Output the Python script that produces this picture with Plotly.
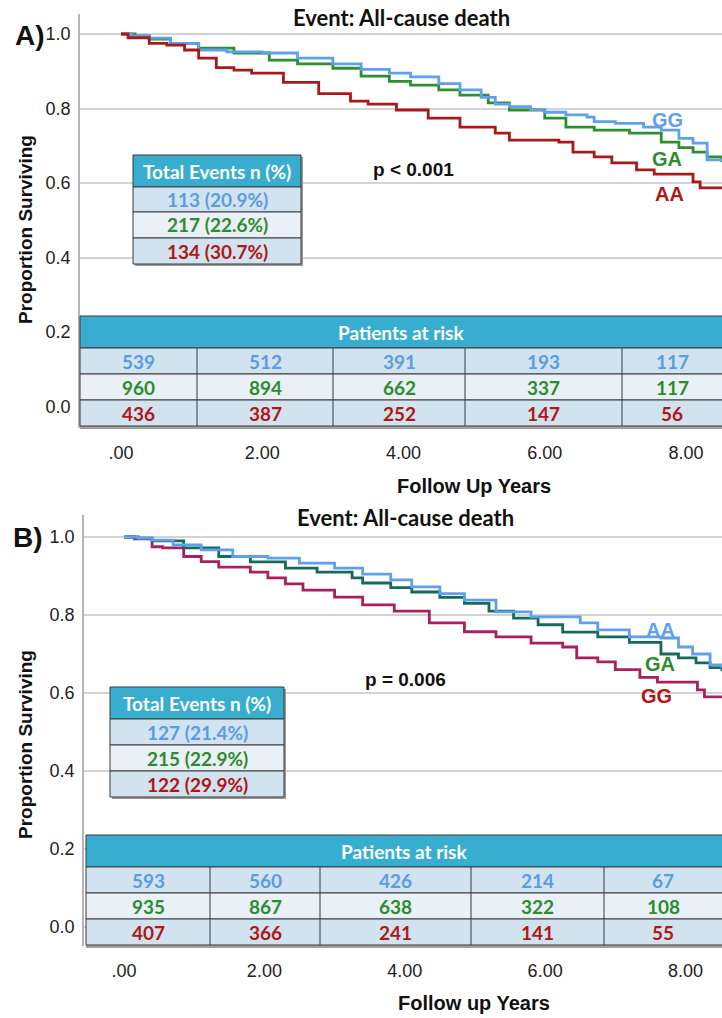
import plotly.graph_objects as go

W, H = 722, 1018

# ---- Panel A: Kaplan-Meier estimates (years, proportion surviving) ----
a_gg_t = [0, 0.15, 0.4, 0.7, 1.1, 1.5, 2.0, 2.5, 3.0, 3.4, 3.8, 4.1, 4.5, 4.8, 5.1, 5.3, 5.5,
          5.8, 6.0, 6.3, 6.6, 6.7, 7.0, 7.4, 7.65, 7.9, 8.1, 8.3, 8.51]
a_gg_s = [1.0, 0.995, 0.989, 0.975, 0.957, 0.952, 0.949, 0.935, 0.92, 0.905, 0.895, 0.885, 0.867,
          0.85, 0.83, 0.812, 0.805, 0.797, 0.79, 0.783, 0.777, 0.765, 0.76, 0.75, 0.742, 0.72,
          0.707, 0.662, 0.662]
a_ga_t = [0, 0.2, 0.4, 0.7, 1.1, 1.6, 2.1, 2.5, 3.0, 3.4, 3.8, 4.1, 4.5, 4.8, 5.2, 5.5, 6.0,
          6.3, 6.7, 7.2, 7.65, 7.9, 8.1, 8.3, 8.51]
a_ga_s = [1.0, 0.995, 0.986, 0.975, 0.962, 0.949, 0.93, 0.92, 0.908, 0.887, 0.873, 0.863, 0.85,
          0.836, 0.815, 0.796, 0.774, 0.75, 0.742, 0.734, 0.71, 0.695, 0.683, 0.67, 0.656]
a_aa_t = [0, 0.1, 0.4, 0.65, 0.9, 1.1, 1.35, 1.6, 1.85, 2.3, 2.8, 3.25, 3.5, 3.9, 4.35, 4.8,
          5.3, 5.5, 6.2, 6.4, 6.7, 6.95, 7.3, 7.55, 7.95, 8.1, 8.2, 8.51]
a_aa_s = [1.0, 0.99, 0.975, 0.97, 0.957, 0.935, 0.91, 0.903, 0.895, 0.87, 0.84, 0.82, 0.812,
          0.796, 0.774, 0.75, 0.734, 0.715, 0.71, 0.683, 0.67, 0.654, 0.635, 0.624, 0.624, 0.603,
          0.587, 0.587]

# ---- Panel B ----
b_aa_t = [0, 0.2, 0.4, 0.7, 1.1, 1.55, 2.05, 2.5, 3.0, 3.4, 3.8, 4.1, 4.5, 4.85, 5.3, 5.8,
          6.5, 6.75, 7.2, 7.65, 7.9, 8.1, 8.35, 8.52]
b_aa_s = [1.0, 0.997, 0.992, 0.98, 0.967, 0.95, 0.946, 0.933, 0.92, 0.905, 0.89, 0.872, 0.855,
          0.838, 0.808, 0.795, 0.78, 0.762, 0.744, 0.741, 0.718, 0.70, 0.672, 0.664]
b_ga_t = [0, 0.2, 0.4, 0.85, 1.35, 1.8, 2.3, 2.75, 3.25, 3.4, 3.8, 4.1, 4.5, 4.85, 5.2, 5.55,
          5.9, 6.25, 6.75, 7.2, 7.65, 7.9, 8.15, 8.35, 8.52]
b_ga_s = [1.0, 0.997, 0.99, 0.972, 0.95, 0.936, 0.92, 0.91, 0.895, 0.882, 0.87, 0.859, 0.845,
          0.83, 0.81, 0.792, 0.775, 0.756, 0.744, 0.73, 0.70, 0.69, 0.677, 0.665, 0.656]
b_gg_t = [0, 0.15, 0.4, 0.55, 0.85, 1.1, 1.35, 1.8, 2.05, 2.3, 2.55, 3.0, 3.4, 3.85, 4.35,
          4.85, 5.3, 5.8, 6.25, 6.45, 6.75, 7.0, 7.35, 7.6, 8.07, 8.17, 8.27, 8.52]
b_gg_s = [1.0, 0.995, 0.975, 0.972, 0.95, 0.937, 0.923, 0.91, 0.895, 0.88, 0.864, 0.846, 0.826,
          0.81, 0.78, 0.757, 0.744, 0.728, 0.718, 0.69, 0.68, 0.66, 0.64, 0.628, 0.628, 0.608,
          0.59, 0.59]

# ---- Axis ticks and tables ----
x_ticks = [0, 2, 4, 6, 8]
x_tick_text = [".00", "2.00", "4.00", "6.00", "8.00"]
y_ticks = [0.0, 0.2, 0.4, 0.6, 0.8, 1.0]

a_events = ["113 (20.9%)", "217 (22.6%)", "134 (30.7%)"]
a_risk_gg = [539, 512, 391, 193, 117]
a_risk_ga = [960, 894, 662, 337, 117]
a_risk_aa = [436, 387, 252, 147, 56]

b_events = ["127 (21.4%)", "215 (22.9%)", "122 (29.9%)"]
b_risk_aa = [593, 560, 426, 214, 67]
b_risk_ga = [935, 867, 638, 322, 108]
b_risk_gg = [407, 366, 241, 141, 55]

BLUE = "#5ea0ee"
GREEN_A = "#2f8f2f"
RED_A = "#a81a1a"
TEAL_B = "#17695c"
MAGENTA_B = "#a8205d"
TXT_BLUE = "#5b9be6"
TXT_GREEN = "#2e8b2e"
TXT_RED = "#b01717"
HEAD = "#37aed0"
ROW_DARK = "#d1e3ee"
ROW_LIGHT = "#e9f1f6"
BORDER = "#3a3a3a"

TICK_FONT = dict(family="Liberation Sans, Arial", size=18, color="#222222")
BOLD = "Liberation Sans, Arial"
CAL = "Lato, Open Sans, sans-serif"


def fx(x):
    return x / W


def fy(y):
    return 1 - y / H


shapes = []
annotations = []


def rect(x0, y0, x1, y1, fill, line=None, width=0):
    shapes.append(dict(type="rect", xref="paper", yref="paper",
                       x0=fx(x0), x1=fx(x1), y0=fy(y1), y1=fy(y0),
                       fillcolor=fill, line=dict(color=line or fill, width=width),
                       layer="above"))


def seg(x0, y0, x1, y1, color=BORDER, width=1):
    shapes.append(dict(type="line", xref="paper", yref="paper",
                       x0=fx(x0), x1=fx(x1), y0=fy(y0), y1=fy(y1),
                       line=dict(color=color, width=width), layer="above"))


def text(x, y, s, size, color, family=CAL, bold=True, xanchor="center"):
    annotations.append(dict(xref="paper", yref="paper", x=fx(x), y=fy(y),
                            text=f"<b>{s}</b>" if bold else s, showarrow=False,
                            xanchor=xanchor, yanchor="middle",
                            font=dict(family=family, size=size, color=color)))


def events_table(left, right, top, head_bot, row_bots, values, colors):
    rect(left + 2, top + 2, right + 2, row_bots[-1] + 2, "#9a9a9a")
    rect(left, top, right, head_bot, HEAD, BORDER, 1)
    text((left + right) / 2, (top + head_bot) / 2, "Total Events n (%)", 19, "white")
    prev = head_bot
    for i, (rb, v, c) in enumerate(zip(row_bots, values, colors)):
        rect(left, prev, right, rb, ROW_DARK if i != 1 else ROW_LIGHT, BORDER, 1)
        text((left + right) / 2, (prev + rb) / 2, v, 19, c)
        prev = rb


def risk_table(left, right, top, head_bot, row_bots, dividers, rows, colors):
    rect(left, row_bots[-1], right, row_bots[-1] + 3, "#a0a0a0")
    rect(left, top, right + 5, head_bot, HEAD, BORDER, 1)
    text((left + right) / 2, (top + head_bot) / 2, "Patients at risk", 19, "white")
    edges = [left] + dividers + [right]
    prev = head_bot
    for i, (rb, vals, c) in enumerate(zip(row_bots, rows, colors)):
        rect(left, prev, right + 5, rb, ROW_DARK if i != 1 else ROW_LIGHT, BORDER, 1)
        for j, v in enumerate(vals):
            text((edges[j] + edges[j + 1]) / 2, (prev + rb) / 2, v, 19, c)
        prev = rb
    for d in dividers:
        seg(d, head_bot, d, row_bots[-1])


fig = go.Figure()


def km(t, s, color, xa, ya):
    fig.add_trace(go.Scatter(x=t, y=s, mode="lines", line_shape="hv",
                             line=dict(color=color, width=2.8),
                             xaxis=xa, yaxis=ya, showlegend=False, hoverinfo="skip"))


km(a_ga_t, a_ga_s, GREEN_A, "x", "y")
km(a_gg_t, a_gg_s, BLUE, "x", "y")
km(a_aa_t, a_aa_s, RED_A, "x", "y")
km(b_gg_t, b_gg_s, MAGENTA_B, "x2", "y2")
km(b_ga_t, b_ga_s, TEAL_B, "x2", "y2")
km(b_aa_t, b_aa_s, BLUE, "x2", "y2")

# Panel A overlays
events_table(133, 301, 155, 187, [212, 238, 264], a_events, [TXT_BLUE, TXT_GREEN, TXT_RED])
risk_table(80, 722, 316, 348, [374, 400, 426], [197, 333, 465, 622],
           [a_risk_gg, a_risk_ga, a_risk_aa], [TXT_BLUE, TXT_GREEN, TXT_RED])
text(413, 170, "p &lt; 0.001", 19, "#111111", family=BOLD)
text(667, 120, "GG", 20, BLUE, family=BOLD)
text(667, 159, "GA", 20, TXT_GREEN, family=BOLD)
text(669, 194, "AA", 20, TXT_RED, family=BOLD)
text(401, 17, "Event: All-cause death", 22, "#111111")
text(30, 35, "A)", 28, "#111111", family=BOLD)
text(474, 486, "Follow Up Years", 20, "#111111", family=BOLD)

# Panel B overlays
events_table(110, 284, 687, 719, [745, 771, 797], b_events, [TXT_BLUE, TXT_GREEN, TXT_RED])
risk_table(86, 722, 835, 867, [893, 919, 945], [210, 320, 471, 604],
           [b_risk_aa, b_risk_ga, b_risk_gg], [TXT_BLUE, TXT_GREEN, TXT_RED])
text(406, 679, "p = 0.006", 19, "#111111", family=BOLD)
text(660, 630, "AA", 20, BLUE, family=BOLD)
text(660, 664, "GA", 20, TXT_GREEN, family=BOLD)
text(656, 696, "GG", 20, TXT_RED, family=BOLD)
text(406, 517, "Event: All-cause death", 22, "#111111")
text(28, 537, "B)", 28, "#111111", family=BOLD)
text(474, 1003, "Follow up Years", 20, "#111111", family=BOLD)

# y axis titles
for yc in (230, 745):
    annotations.append(dict(xref="paper", yref="paper", x=fx(25), y=fy(yc),
                            text="<b>Proportion Surviving</b>", showarrow=False,
                            textangle=-90, xanchor="center", yanchor="middle",
                            font=dict(family=BOLD, size=19, color="#111111")))

xcommon = dict(tickvals=x_ticks, ticktext=x_tick_text, showgrid=False, zeroline=False,
               showline=False, ticks="", tickfont=TICK_FONT, ticklabelstandoff=12,
               fixedrange=True)
ycommon = dict(tickvals=y_ticks, tickformat=".1f", showgrid=True, gridcolor="#d3d3d3",
               gridwidth=1.5, zeroline=False, showline=True, linecolor="#b4b4b4",
               linewidth=1.5, ticks="", tickfont=TICK_FONT, ticklabelstandoff=4,
               fixedrange=True)

fig.update_layout(
    width=W, height=H, margin=dict(l=0, r=0, t=0, b=0),
    paper_bgcolor="white", plot_bgcolor="white",
    xaxis=dict(domain=[fx(80), 1], range=[-0.58, 8.51], anchor="y", **xcommon),
    yaxis=dict(domain=[fy(428), fy(14)], range=[-0.0577, 1.0537], anchor="x", **ycommon),
    xaxis2=dict(domain=[fx(84), 1], range=[-0.57, 8.52], anchor="y2", **xcommon),
    yaxis2=dict(domain=[fy(946), fy(515)], range=[-0.0487, 1.0564], anchor="x2", **ycommon),
    shapes=shapes, annotations=annotations,
)

fig.write_html("out.html")
